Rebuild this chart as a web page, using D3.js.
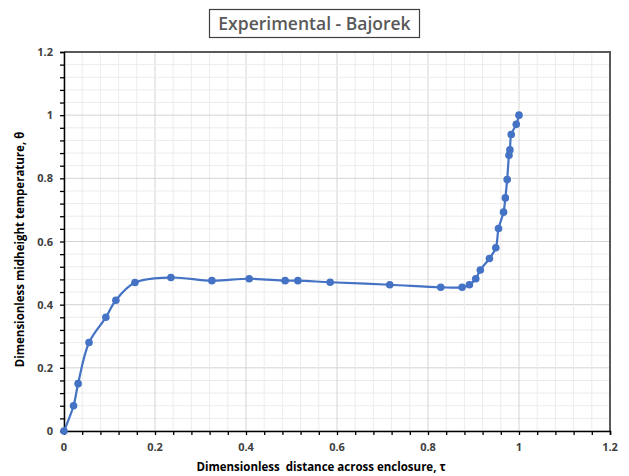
<!DOCTYPE html>
<html>
<head>
<meta charset="utf-8">
<script src="https://cdn.jsdelivr.net/npm/d3@7"></script>
<style>
  html, body { margin: 0; padding: 0; background: #fff; }
  svg { display: block; }
</style>
</head>
<body>
<svg id="chart" width="629" height="476"></svg>
<script>
// Midheight temperature profile across the enclosure (Bajorek experiment)
const tau = [0, 0.021, 0.031, 0.055, 0.092, 0.114, 0.156, 0.235, 0.325, 0.407, 0.486, 0.514,
  0.585, 0.716, 0.828, 0.875, 0.891, 0.905, 0.915, 0.935, 0.949, 0.955, 0.966, 0.970,
  0.974, 0.978, 0.980, 0.983, 0.994, 1.0];
const theta = [0, 0.080, 0.150, 0.280, 0.360, 0.414, 0.470, 0.486, 0.476, 0.482, 0.476, 0.476,
  0.471, 0.463, 0.455, 0.455, 0.463, 0.482, 0.510, 0.546, 0.580, 0.641, 0.693, 0.738,
  0.796, 0.873, 0.890, 0.939, 0.971, 1.0];
const xTicks = [0, 0.2, 0.4, 0.6, 0.8, 1, 1.2];
const yTicks = [0, 0.2, 0.4, 0.6, 0.8, 1, 1.2];
const titleText = "Experimental - Bajorek";
const xLabel = "Dimensionless  distance across enclosure, \u03c4";
const yLabel = "Dimensionless midheight temperature, \u03b8";

const svg = d3.select("#chart");
const plotL = 64, plotR = 610, plotT = 52, plotB = 431;
const x = d3.scaleLinear().domain([0, 1.2]).range([plotL, plotR]);
const y = d3.scaleLinear().domain([0, 1.2]).range([plotB, plotT]);

const minorVals = d3.range(0, 31).map(i => +(i * 0.04).toFixed(2));
const isMajor = v => Math.abs(v / 0.2 - Math.round(v / 0.2)) < 1e-6;

// grid: minor every 0.04, major every 0.2
const grid = svg.append("g");
minorVals.forEach(v => {
  const c = isMajor(v) ? "#d4d4d4" : "#ececec";
  grid.append("line").attr("x1", x(v)).attr("x2", x(v)).attr("y1", plotT).attr("y2", plotB)
    .attr("stroke", c).attr("stroke-width", 1);
  grid.append("line").attr("x1", plotL).attr("x2", plotR).attr("y1", y(v)).attr("y2", y(v))
    .attr("stroke", c).attr("stroke-width", 1);
});

// top and right frame
svg.append("path")
  .attr("d", `M${plotL},${plotT}H${plotR}V${plotB}`)
  .attr("fill", "none").attr("stroke", "#595959").attr("stroke-width", 2);

const fontTick = "'Open Sans', 'Liberation Sans', sans-serif";

// x axis with minor ticks
const xAxis = svg.append("g").attr("transform", `translate(0,${plotB})`)
  .call(d3.axisBottom(x).tickValues(minorVals).tickSize(4).tickFormat(""));
xAxis.select(".domain").attr("stroke", "#000").attr("stroke-width", 1.5);
xAxis.selectAll(".tick line").attr("stroke", "#000").attr("stroke-width", 1.3);
svg.append("g").selectAll("text").data(xTicks).join("text")
  .attr("x", d => x(d)).attr("y", 451)
  .attr("text-anchor", "middle")
  .attr("font-family", fontTick).attr("font-size", 11).attr("font-weight", "bold")
  .attr("fill", "#404040")
  .text(d => d3.format("")(d));

// y axis with minor ticks
const yAxis = svg.append("g").attr("transform", `translate(${plotL},0)`)
  .call(d3.axisLeft(y).tickValues(minorVals).tickSize(4).tickFormat(""));
yAxis.select(".domain").attr("stroke", "#000").attr("stroke-width", 1.5);
yAxis.selectAll(".tick line").attr("stroke", "#000").attr("stroke-width", 1.3);
svg.append("g").selectAll("text").data(yTicks).join("text")
  .attr("x", 53).attr("y", d => y(d) + 4)
  .attr("text-anchor", "end")
  .attr("font-family", fontTick).attr("font-size", 11).attr("font-weight", "bold")
  .attr("fill", "#404040")
  .text(d => d3.format("")(d));

// data line, smoothed, with markers
const pts = tau.map((t, i) => [t, theta[i]]);
const line = d3.line().x(d => x(d[0])).y(d => y(d[1])).curve(d3.curveCatmullRom.alpha(0.5));
svg.append("path").datum(pts)
  .attr("d", line).attr("fill", "none").attr("stroke", "#4472c4").attr("stroke-width", 2.2);
svg.append("g").selectAll("circle").data(pts).join("circle")
  .attr("cx", d => x(d[0])).attr("cy", d => y(d[1])).attr("r", 3.8)
  .attr("fill", "#4472c4");

// axis titles
svg.append("text")
  .attr("x", 321).attr("y", 471).attr("text-anchor", "middle")
  .attr("font-family", fontTick).attr("font-size", 11.5).attr("font-weight", "bold")
  .attr("fill", "#000").style("white-space", "pre")
  .text(xLabel);
svg.append("text")
  .attr("transform", `translate(24,${(plotT + plotB) / 2 + 8}) rotate(-90)`)
  .attr("text-anchor", "middle")
  .attr("font-family", fontTick).attr("font-size", 11.5).attr("font-weight", "bold")
  .attr("fill", "#000")
  .text(yLabel);

// boxed title
svg.append("rect").attr("x", 209.5).attr("y", 9.5).attr("width", 210).attr("height", 28)
  .attr("fill", "#fff").attr("stroke", "#404040").attr("stroke-width", 1.2);
svg.append("text")
  .attr("x", 314.5).attr("y", 30).attr("text-anchor", "middle")
  .attr("font-family", fontTick).attr("font-size", 17.5).attr("font-weight", 600)
  .attr("fill", "#595959")
  .text(titleText);
</script>
</body>
</html>
